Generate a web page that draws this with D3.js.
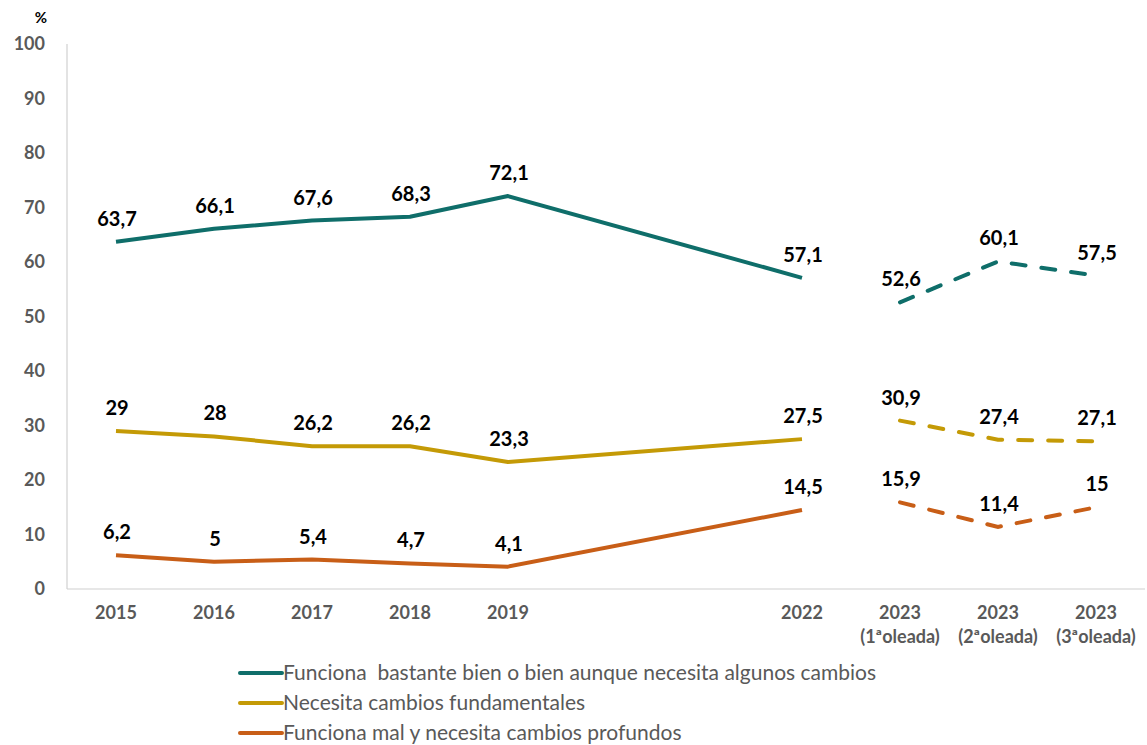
<!DOCTYPE html>
<html>
<head>
<meta charset="utf-8">
<script src="https://cdn.jsdelivr.net/npm/d3@7"></script>
<style>
  body { margin: 0; background: #fff; }
  svg { display: block; }
  text { font-family: Lato, "Open Sans", sans-serif; }
</style>
</head>
<body>
<svg></svg>
<script>
var width = 1147, height = 745;
var margin = {top: 44, right: 2, bottom: 156, left: 67};

// categorias (2020 y 2021 quedan vacias)
var categories = ["2015", "2016", "2017", "2018", "2019", "2020", "2021", "2022", "2023a", "2023b", "2023c"];
var tickLabels = [["2015"], ["2016"], ["2017"], ["2018"], ["2019"], [""], [""], ["2022"],
                  ["2023", "(1ªoleada)"], ["2023", "(2ªoleada)"], ["2023", "(3ªoleada)"]];
var yTicks = [0, 10, 20, 30, 40, 50, 60, 70, 80, 90, 100];

var seriesNames = [
  "Funciona  bastante bien o bien aunque necesita algunos cambios",
  "Necesita cambios fundamentales",
  "Funciona mal y necesita cambios profundos"
];
var seriesColors = ["#0f6e6a", "#c49a06", "#c85e17"];

var funcionaBien   = [63.7, 66.1, 67.6, 68.3, 72.1, null, null, 57.1, 52.6, 60.1, 57.5];
var cambiosFund    = [29, 28, 26.2, 26.2, 23.3, null, null, 27.5, 30.9, 27.4, 27.1];
var funcionaMal    = [6.2, 5, 5.4, 4.7, 4.1, null, null, 14.5, 15.9, 11.4, 15];
var seriesValues = [funcionaBien, cambiosFund, funcionaMal];

// tramo continuo hasta 2022, discontinuo en 2023
var solidIdx = [0, 1, 2, 3, 4, 7];
var dashedIdx = [8, 9, 10];

var svg = d3.select("svg").attr("width", width).attr("height", height);

var x = d3.scalePoint()
    .domain(categories)
    .range([margin.left, width - margin.right])
    .padding(0.5);

var y = d3.scaleLinear()
    .domain([0, 100])
    .range([height - margin.bottom, margin.top]);

// ejes
svg.append("line")
    .attr("x1", margin.left).attr("x2", margin.left)
    .attr("y1", y(100)).attr("y2", y(0))
    .attr("stroke", "#d0d0d0").attr("stroke-width", 1.2);
svg.append("line")
    .attr("x1", margin.left).attr("x2", width - margin.right)
    .attr("y1", y(0)).attr("y2", y(0))
    .attr("stroke", "#d0d0d0").attr("stroke-width", 1.2);

svg.selectAll(".ytick")
    .data(yTicks)
    .enter().append("text")
    .attr("class", "ytick")
    .attr("x", 45)
    .attr("y", function(d) { return y(d); })
    .attr("dy", "0.36em")
    .attr("text-anchor", "end")
    .attr("font-size", 18)
    .attr("font-weight", "bold")
    .attr("fill", "#595959")
    .text(function(d) { return d; });

svg.append("text")
    .attr("x", 41).attr("y", 23)
    .attr("text-anchor", "middle")
    .attr("font-size", 15)
    .attr("font-weight", "bold")
    .attr("fill", "#000")
    .text("%");

var xt = svg.selectAll(".xtick")
    .data(categories)
    .enter().append("text")
    .attr("class", "xtick")
    .attr("text-anchor", "middle")
    .attr("font-size", 18)
    .attr("font-weight", "bold")
    .attr("fill", "#595959");
xt.each(function(d, i) {
  var t = d3.select(this);
  tickLabels[i].forEach(function(s, k) {
    t.append("tspan")
      .attr("x", x(d))
      .attr("y", 619 + k * 24)
      .text(s);
  });
});

// lineas
var line = d3.line()
    .x(function(d) { return x(categories[d.i]); })
    .y(function(d) { return y(d.v); });

seriesValues.forEach(function(vals, s) {
  var solid = solidIdx.map(function(i) { return {i: i, v: vals[i]}; });
  var dashed = dashedIdx.map(function(i) { return {i: i, v: vals[i]}; });

  svg.append("path")
      .datum(solid)
      .attr("d", line)
      .attr("fill", "none")
      .attr("stroke", seriesColors[s])
      .attr("stroke-width", 4)
      .attr("stroke-linejoin", "round");

  svg.append("path")
      .datum(dashed)
      .attr("d", line)
      .attr("fill", "none")
      .attr("stroke", seriesColors[s])
      .attr("stroke-width", 4)
      .attr("stroke-linecap", "round")
      .attr("stroke-dasharray", "14,16");

  var pts = solid.concat(dashed);
  svg.selectAll(".lbl" + s)
      .data(pts)
      .enter().append("text")
      .attr("class", "lbl" + s)
      .attr("x", function(d) { return x(categories[d.i]) + 1; })
      .attr("y", function(d) { return y(d.v) - 16; })
      .attr("text-anchor", "middle")
      .attr("font-size", 20)
      .attr("font-weight", "bold")
      .attr("fill", "#000")
      .text(function(d) { return String(d.v).replace(".", ","); });
});

// leyenda
var legend = svg.selectAll(".legend")
    .data(seriesNames)
    .enter().append("g")
    .attr("class", "legend")
    .attr("transform", function(d, i) { return "translate(240," + (673 + i * 30) + ")"; });

legend.append("line")
    .attr("x1", 0).attr("x2", 42)
    .attr("y1", 0).attr("y2", 0)
    .attr("stroke", function(d, i) { return seriesColors[i]; })
    .attr("stroke-width", 4)
    .attr("stroke-linecap", "round");

legend.append("text")
    .attr("x", 43)
    .attr("y", 0)
    .attr("dy", "0.33em")
    .attr("font-size", 21)
    .attr("fill", "#595959")
    .style("white-space", "pre")
    .text(function(d) { return d; });
</script>
</body>
</html>
